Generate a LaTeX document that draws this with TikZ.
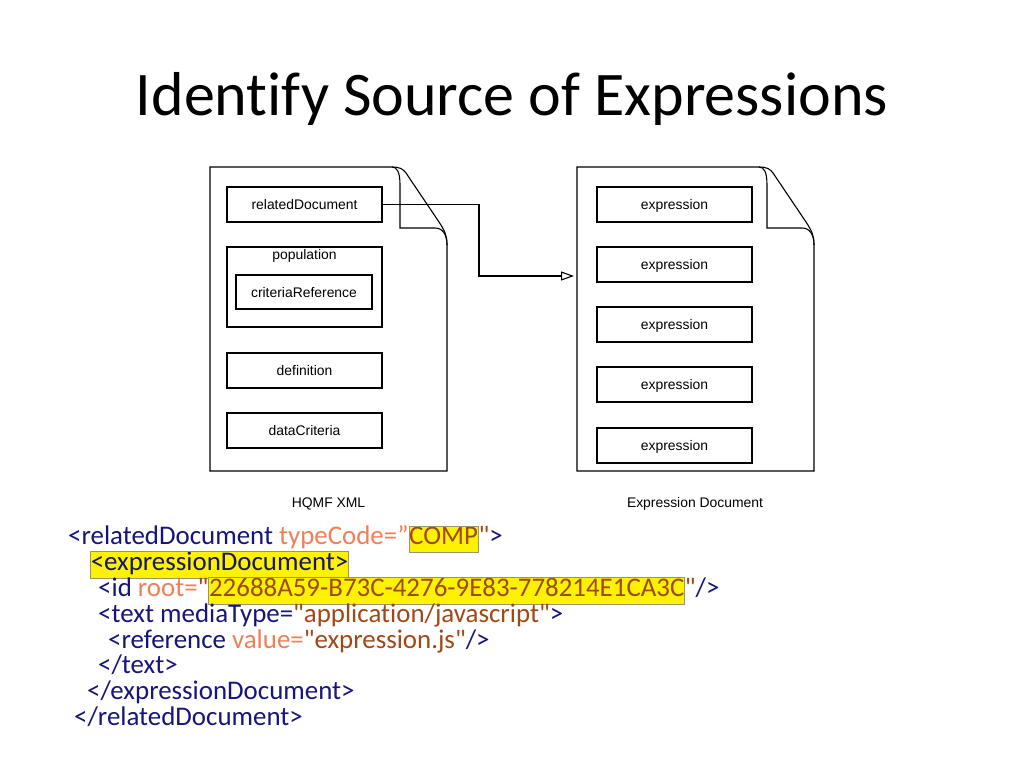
\documentclass[tikz,border=0pt]{standalone}
\usepackage{fontspec}
\setmainfont{Carlito}[Ligatures=NoCommon]
\newfontfamily\calib{Carlito}[Ligatures=NoCommon]
\newfontfamily\helv{Liberation Sans}
\usetikzlibrary{arrows.meta,calc}
\definecolor{tagc}{RGB}{22,22,122}
\definecolor{attc}{RGB}{238,128,88}
\definecolor{valc}{RGB}{160,72,22}
\definecolor{hlb}{RGB}{150,150,110}
\newcommand\qq{\symbol{34}}
\newcommand\hlx[1]{{\setlength\fboxsep{0pt}\setlength\fboxrule{0.6pt}\fcolorbox{hlb}{yellow}{\rule[-7.5pt]{0pt}{23.5pt}#1}}}
\newcommand\tg[1]{\textcolor{tagc}{#1}}
\newcommand\at[1]{\textcolor{attc}{#1}}
\newcommand\vl[1]{\textcolor{valc}{#1}}
\newcommand\docpath[1]{%
  \draw[docline] (#1,167) -- (#1+182,167) .. controls (#1+190,167) and (#1+193,169) .. (#1+196,173)
     -- (#1+229,222) .. controls (#1+235,231) and (#1+237,236) .. (#1+237,245) -- (#1+237,471) -- (#1,471) -- cycle;
  \draw[docline] (#1+182,167) .. controls (#1+187,167) and (#1+190,172) .. (#1+190,185) -- (#1+190,228)
     -- (#1+225,228) .. controls (#1+233,228) and (#1+237,235) .. (#1+237,245);
}
\begin{document}
\begin{tikzpicture}[x=1pt,y=-1pt,
  docline/.style={line width=1.1pt,black},
  box/.style={draw,line width=1.1pt,minimum width=155pt,minimum height=35pt,inner sep=0pt,
     font=\helv\fontsize{13.9}{15}\selectfont,text height=11pt,text depth=1pt},
  lbl/.style={font=\helv\fontsize{13.9}{15}\selectfont,inner sep=0pt,anchor=base},
  code/.style={anchor=base west,inner sep=0pt,font=\calib\fontsize{26.9}{27}\selectfont}]
\useasboundingbox (0,0) rectangle (1024,768);
\fill[white] (0,0) rectangle (1024,768);
\node[anchor=base,inner sep=0pt,font=\calib\fontsize{62}{64}\selectfont] (title) at (512,115) {Identify Source of Expressions};
% documents
\docpath{210}
\docpath{577}
% left boxes
\node[box] (rel) at (304.5,204.5) {relatedDocument};
\node[box,minimum height=80pt] (pop) at (304.5,287) {};
\node[lbl] (poplbl) at (304.5,259.5) {population};
\node[box,minimum width=136pt,minimum height=34pt] (crit) at (304,292) {criteriaReference};
\node[box] (def) at (304.5,370.5) {definition};
\node[box] (dc) at (304.5,430.5) {dataCriteria};
% right boxes
\node[box] (e1) at (674.5,204.5) {expression};
\node[box] (e2) at (674.5,264.5) {expression};
\node[box] (e3) at (674.5,324.5) {expression};
\node[box] (e4) at (674.5,384.5) {expression};
\node[box] (e5) at (674.5,445.5) {expression};
\node[lbl] (l1) at (328.5,507) {HQMF XML};
\node[lbl] (l2) at (695,507) {Expression Document};
% connector
\coordinate (bend) at (479,0);
\coordinate (edin) at (577,276);
\draw[line width=1.1pt,-{Triangle[open,length=13pt,width=9pt,line width=1.1pt]},shorten >=3pt]
  (rel.east) -- (rel.east -| bend) -- (bend |- edin) -- (edin);
% code
\node[code] (c1) at (68,544) {\tg{<relatedDocument} \at{typeCode=”}\hlx{\vl{COMP}}\vl{\qq}\tg{>}};
\node[code] (c2) at (90,570) {\hlx{\tg{<expressionDocument>}}};
\node[code] (c3) at (98,596) {\tg{<id} \at{root=}\vl{\qq}\hlx{\vl{22688A59-B73C-4276-9E83-778214E1CA3C}}\vl{\qq}\tg{/>}};
\node[code] (c4) at (98,622) {\tg{<text mediaType=}\vl{\qq application/javascript\qq}\tg{>}};
\node[code] (c5) at (108,648) {\tg{<reference} \at{value=}\vl{\qq expression.js\qq}\tg{/>}};
\node[code] (c6) at (98,673) {\tg{</text>}};
\node[code] (c7) at (87,699) {\tg{</expressionDocument>}};
\node[code] (c8) at (74,725) {\tg{</relatedDocument>}};
\end{tikzpicture}
\end{document}
